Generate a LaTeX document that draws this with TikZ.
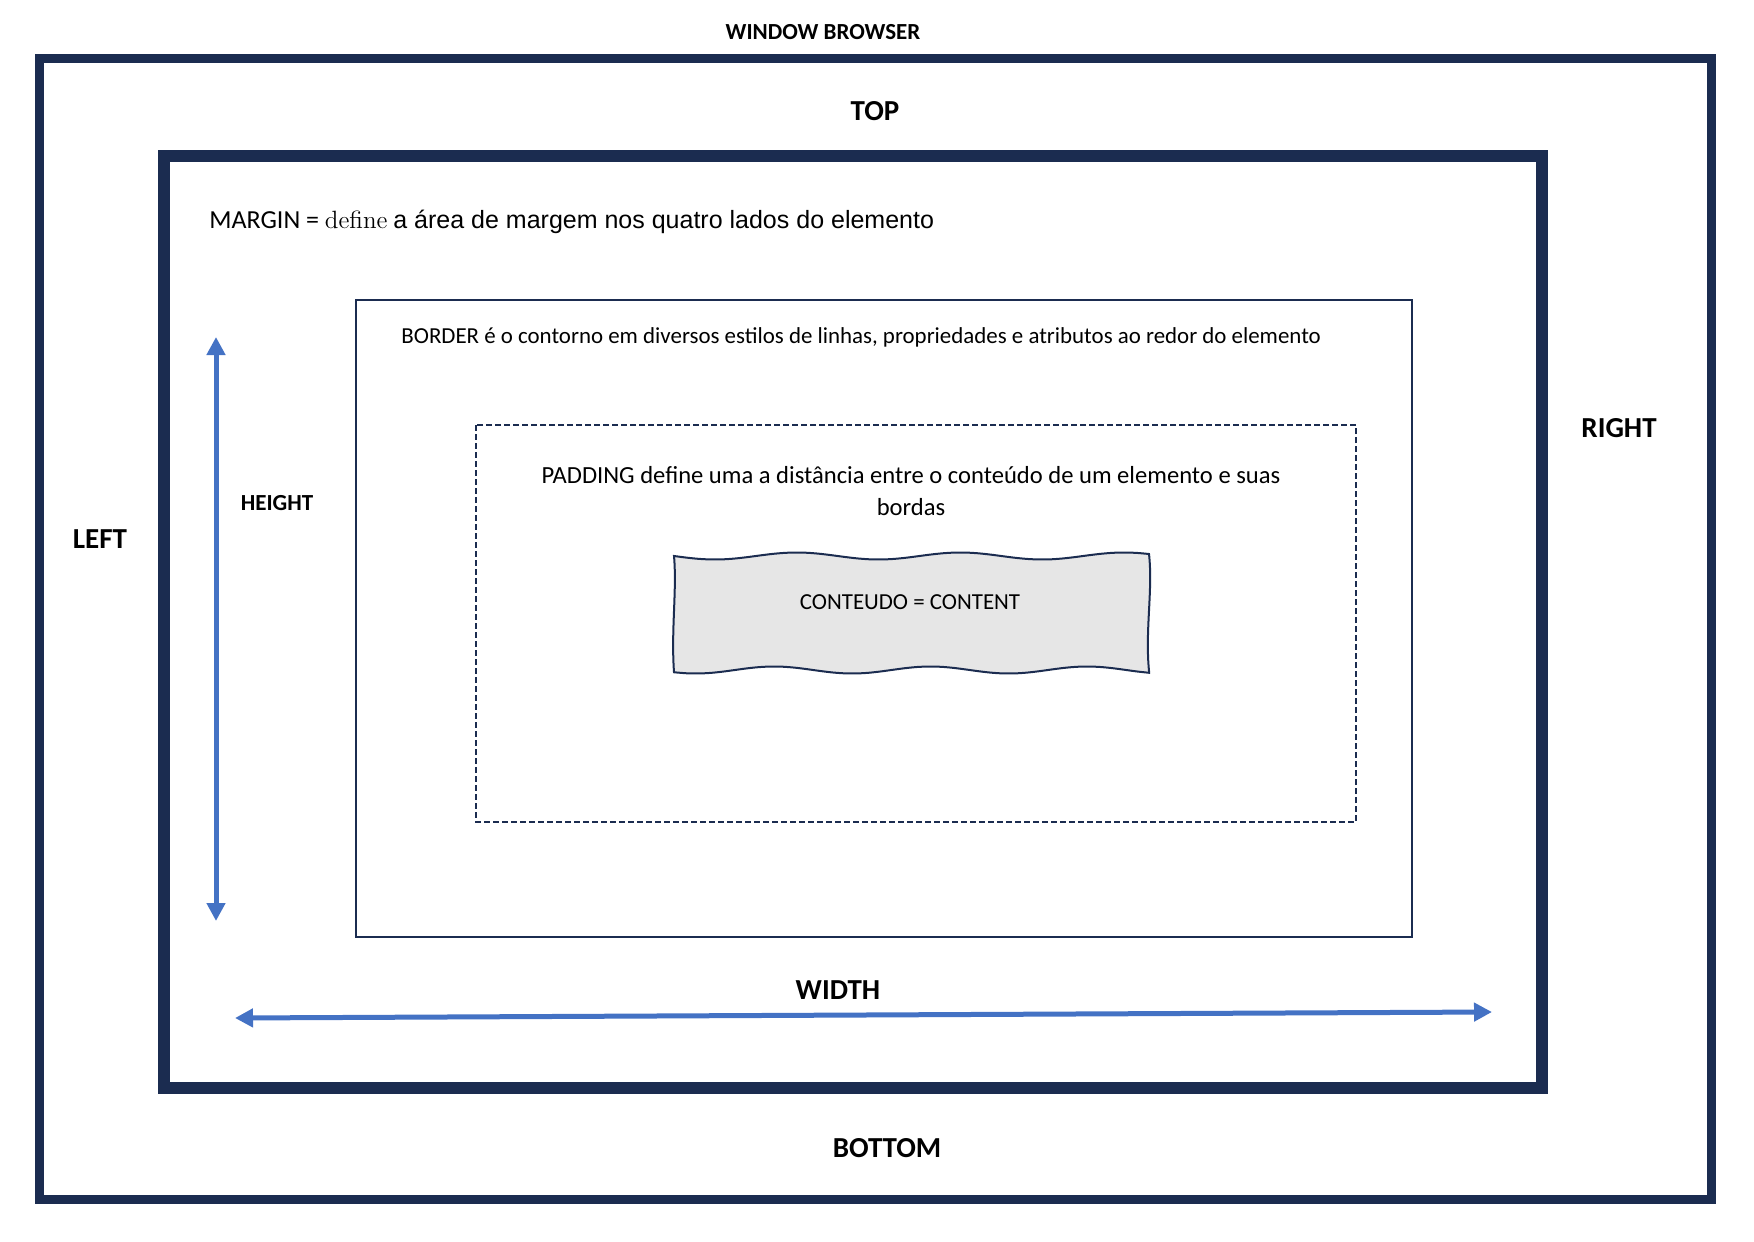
\documentclass[tikz,border=0pt]{standalone}
\usepackage{fontspec}
\newfontfamily\calibri{Carlito}
\newfontfamily\arial{Liberation Sans}
\usetikzlibrary{arrows.meta}

\definecolor{framenavy}{HTML}{1B2C50}
\definecolor{arrowblue}{HTML}{4472C4}
\definecolor{contentgray}{HTML}{E6E6E6}

\tikzset{
    windowframe/.style={draw=framenavy, line width=4.5pt},
    marginframe/.style={draw=framenavy, line width=6pt},
    borderframe/.style={draw=framenavy, line width=0.9pt},
    paddingframe/.style={draw=framenavy, line width=0.7pt, dash pattern=on 3pt off 1.5pt},
    sidelabel/.style={inner sep=0pt, font=\calibri\bfseries\fontsize{14.5}{17}\selectfont},
    smalllabel/.style={inner sep=0pt, font=\calibri\bfseries\fontsize{11.5}{14}\selectfont},
    bodytext/.style={inner sep=0pt, font=\calibri\fontsize{11.45}{16}\selectfont},
    sizearrow/.style={draw=arrowblue, line width=2.5pt, {Triangle[length=9pt,width=9pt]}-{Triangle[length=9pt,width=9pt]}}
}

\begin{document}
\begin{tikzpicture}[x=0.5pt, y=-0.5pt]
    \useasboundingbox (0,0) rectangle (1754,1241);

    % frames
    \draw[windowframe] (39,59) rectangle (1711,1199);
    \draw[marginframe] (164,156) rectangle (1542,1088);
    \draw[borderframe] (356,300) rectangle (1412,937);
    \draw[paddingframe] (476,425) rectangle (1356,822);

    % content box
    \filldraw[fill=contentgray, draw=framenavy, line width=1pt]
        plot[smooth, domain=674:1149, samples=40] (\x, {556+3.5*sin((\x-674)*2.2)})
        .. controls (1153,590) and (1145,630) .. (1149,671)
        -- plot[smooth, domain=1149:674, samples=40] (\x, {670+3.5*sin((\x-674)*2.3+40)})
        .. controls (671,630) and (677,590) .. (674,556) -- cycle;

    % texts
    \node[smalllabel] (browser) at (823,32) {WINDOW BROWSER};
    \node[sidelabel] (top) at (875,111) {TOP};
    \node[sidelabel] (right) at (1619,428) {RIGHT};
    \node[sidelabel] (left) at (100,539) {LEFT};
    \node[sidelabel] (bottom) at (887,1148) {BOTTOM};
    \node[smalllabel] (height) at (277,503) {HEIGHT};
    \node[sidelabel] (width) at (838,990) {WIDTH};

    \node[anchor=base west, inner sep=0pt] (margintext) at (209,228)
        {\calibri\fontsize{13}{16}\selectfont MARGIN = {\rmfamily\fontsize{12.5}{16}\selectfont define}
         {\arial\fontsize{12.5}{16}\selectfont a área de margem nos quatro lados do elemento}};
    \node[bodytext, anchor=base west] (bordertext) at (401,343)
        {BORDER é o contorno em diversos estilos de linhas, propriedades e atributos ao redor do elemento};
    \node[bodytext, align=center, font=\calibri\fontsize{12.3}{16}\selectfont] (paddingtext) at (911,491)
        {PADDING define uma a distância entre o conteúdo de um elemento e suas\\bordas};
    \node[bodytext] (content) at (910,602) {CONTEUDO = CONTENT};

    % arrows
    \coordinate (htop) at (216,337);
    \coordinate (hbot) at (216,921);
    \coordinate (wleft) at (235,1018);
    \coordinate (wright) at (1492,1012);
    \draw[sizearrow] (htop) -- (hbot);
    \draw[sizearrow] (wleft) -- (wright);
\end{tikzpicture}
\end{document}
